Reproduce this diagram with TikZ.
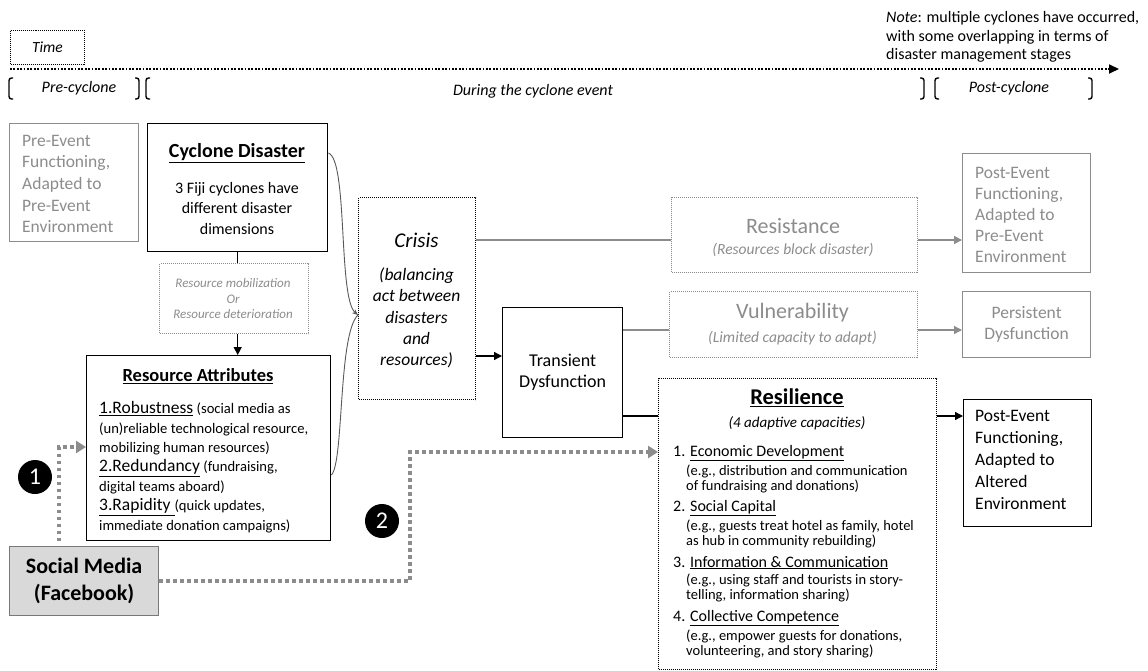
\documentclass[tikz,border=0pt]{standalone}
\usepackage{fontspec}
\setmainfont{Carlito}
\usetikzlibrary{arrows.meta}
\newcommand\fsz[2]{\fontsize{#1}{#2}\selectfont}
\definecolor{lg}{RGB}{140,140,140}
\definecolor{bgc}{RGB}{217,217,217}
\definecolor{bdc}{RGB}{120,120,120}
\begin{document}
\begin{tikzpicture}[x=1pt,y=-1pt,
 box/.style={draw, line width=1.4pt, inner sep=0pt, anchor=north west},
 gbox/.style={draw=lg, line width=1.2pt, inner sep=0pt, anchor=north west},
 dbox/.style={draw, line width=1pt, dash pattern=on 1pt off 1pt, inner sep=0pt, anchor=north west},
 gdbox/.style={draw=lg, line width=1pt, dash pattern=on 1pt off 1pt, inner sep=0pt, anchor=north west},
 txt/.style={inner sep=0pt, align=center},
 ltxt/.style={inner sep=0pt, align=left, anchor=west},
 arr/.style={-{Triangle[length=8pt,width=8pt]}, line width=1.3pt},
 garr/.style={-{Triangle[length=8pt,width=8pt]}, line width=1.3pt, draw=lg, fill=lg},
 gline/.style={line width=1.3pt, draw=lg},
 smpath/.style={draw=lg, line width=3.5pt, dash pattern=on 3.5pt off 3.5pt, -{Triangle[length=10pt,width=12pt,fill=lg]}},
 num/.style={circle, fill=black, text=white, minimum size=34pt, inner sep=0pt, font=\fsz{24}{24}},
 brk/.style={line width=1.4pt, rounded corners=2.5pt},
 curve/.style={line width=0.9pt, draw=black!65}
]
\useasboundingbox (0,0) rectangle (1148,670);

% ---- timeline ----
\node[dbox, minimum width=74, minimum height=34] (tm) at (10,30) {};
\node[txt, font=\fsz{15.5}{18}\itshape] (tmt) at (tm.center) {Time};
\coordinate (t0) at (10,69);
\coordinate (t1) at (1119,69);
\draw[line width=1.7pt, dash pattern=on 1.7pt off 1.7pt, -{Triangle[length=10pt,width=9pt]}] (t0) -- (t1);
\node[ltxt, font=\fsz{16}{18.5}] (note) at (886,37) {\textit{Note}: multiple cyclones have occurred,\\with some overlapping in terms of\\disaster management stages};

\draw[brk] (13,78) -- (9,78) -- (9,99) -- (13,99);
\draw[brk] (135,78) -- (139,78) -- (139,99) -- (135,99);
\draw[brk] (150,78) -- (146,78) -- (146,99) -- (150,99);
\draw[brk] (920,78) -- (924,78) -- (924,99) -- (920,99);
\draw[brk] (939,78) -- (935,78) -- (935,99) -- (939,99);
\draw[brk] (1088,78) -- (1092,78) -- (1092,99) -- (1088,99);
\node[txt, font=\fsz{16}{18}\itshape] (prec) at (79,88) {Pre-cyclone};
\node[txt, font=\fsz{16}{18}\itshape] (during) at (533,91) {During the cyclone event};
\node[txt, font=\fsz{16}{18}\itshape] (postc) at (1009,88) {Post-cyclone};

% ---- left column ----
\node[gbox, minimum width=129, minimum height=118] (pre) at (9,123) {};
\node[ltxt, text=lg, font=\fsz{17.5}{21.7}] (pret) at (22,184) {Pre-Event\\Functioning,\\Adapted to\\Pre-Event\\Environment};

\node[box, minimum width=180, minimum height=128] (cd) at (147,123) {};
\node[txt, font=\fsz{20}{22}\bfseries] (cdh) at (237,153) {\underline{Cyclone Disaster}};
\node[txt, font=\fsz{16}{20.5}] (cdb) at (237,208) {3 Fiji cyclones have\\different disaster\\dimensions};

\node[gdbox, minimum width=149, minimum height=70] (mob) at (159,263) {};
\node[txt, text=lg, font=\fsz{13}{15.5}\itshape] (mobt) at (233,299) {Resource mobilization\\Or\\Resource deterioration};

\node[box, minimum width=244, minimum height=185] (ra) at (86,355) {};
\node[txt, font=\fsz{18.5}{22}\bfseries] (rah) at (198,376) {\underline{Resource Attributes}};
\node[ltxt, font=\fsz{14.6}{19.4}] (rai) at (99,467) {{\fsz{17.5}{19.4}\underline{1.Robustness}} (social media as\\(un)reliable technological resource,\\mobilizing human resources)\\{\fsz{17.5}{19.4}\underline{2.Redundancy}} (fundraising,\\digital teams aboard)\\{\fsz{17.5}{19.4}\underline{3.Rapidity }}(quick updates,\\immediate donation campaigns)};

\node[draw=bdc, fill=bgc, line width=1.2pt, anchor=north west, minimum width=149, minimum height=69, inner sep=0pt, align=center, font=\fsz{22}{27}\bfseries] (sm) at (9,546) {Social Media\\(Facebook)};

\node[num] (n1) at (35,477) {1};
\node[num] (n2) at (382,521) {2};

% ---- middle ----
\node[dbox, minimum width=117, minimum height=202] (cr) at (358,197) {};
\node[txt, font=\fsz{21}{24}\itshape] (crh) at (416.5,240) {Crisis};
\node[txt, font=\fsz{17.5}{21.2}\itshape] (crb) at (416.5,318) {(balancing\\act between\\disasters\\and\\resources)};

\node[box, minimum width=120, minimum height=130, align=center, font=\fsz{18}{21}] (td) at (502,307) {Transient\\Dysfunction};

\node[gdbox, minimum width=246, minimum height=75] (rs) at (671,197) {};
\node[txt, text=lg, font=\fsz{22}{24}] (rsh) at (793,226) {Resistance};
\node[txt, text=lg, font=\fsz{15.5}{18}\itshape] (rss) at (793,250) {(Resources block disaster)};

\node[gdbox, minimum width=248, minimum height=66] (vu) at (669,291) {};
\node[txt, text=lg, font=\fsz{22}{24}] (vuh) at (792.5,313) {Vulnerability};
\node[txt, text=lg, font=\fsz{15.5}{18}\itshape] (vus) at (792.5,338) {(Limited capacity to adapt)};

\node[dbox, minimum width=278, minimum height=291] (rl) at (658,378) {};
\node[txt, font=\fsz{22.5}{24}\bfseries] (rlh) at (797,398) {\underline{Resilience}};
\node[txt, font=\fsz{15}{18}\itshape] (rls) at (797,423) {(4 adaptive capacities)};
\node[ltxt, font=\fsz{14.5}{15}] (ri1) at (673,469) {{\fsz{16}{15}1. \underline{Economic Development}}\\[2.5pt]\hspace*{13pt}(e.g., distribution and communication\\\hspace*{13pt}of fundraising and donations)};
\node[ltxt, font=\fsz{14.5}{15}] (ri2) at (673,524) {{\fsz{16}{15}2. \underline{Social Capital}}\\[2.5pt]\hspace*{13pt}(e.g., guests treat hotel as family, hotel\\\hspace*{13pt}as hub in community rebuilding)};
\node[ltxt, font=\fsz{14.5}{15}] (ri3) at (673,579) {{\fsz{16}{15}3. \underline{Information \& Communication}}\\[2.5pt]\hspace*{13pt}(e.g., using staff and tourists in story-\\\hspace*{13pt}telling, information sharing)};
\node[ltxt, font=\fsz{14.5}{15}] (ri4) at (673,634) {{\fsz{16}{15}4. \underline{Collective Competence}}\\[2.5pt]\hspace*{13pt}(e.g., empower guests for donations,\\\hspace*{13pt}volunteering, and story sharing)};

% ---- right column ----
\node[gbox, minimum width=128, minimum height=119] (pe) at (962,153) {};
\node[ltxt, text=lg, font=\fsz{17.5}{21.2}] (pet) at (975,215) {Post-Event\\Functioning,\\Adapted to\\Pre-Event\\Environment};
\node[gbox, minimum width=128, minimum height=66, align=center, text=lg, font=\fsz{17.5}{20.5}] (pd) at (962,291) {Persistent\\Dysfunction};
\node[box, minimum width=128, minimum height=127] (pa) at (963,399) {};
\node[ltxt, font=\fsz{17.5}{22}] (pat) at (975,460) {Post-Event\\Functioning,\\Adapted to\\Altered\\Environment};

% ---- connectors ----
\coordinate (yc1) at (0,153);
\coordinate (yc2) at (0,475);
\coordinate (ycm) at (0,315);
\coordinate (ycr) at (0,356);
\coordinate (y240) at (0,240);
\coordinate (y330) at (0,330);
\coordinate (y416) at (0,416);
\coordinate (y447) at (0,447);
\coordinate (p1) at (59,541);
\coordinate (c2) at (410,452);

\draw[line width=1.4pt] (cd.south) -- (cd.south |- mob.north);
\draw[arr] (cd.south |- mob.south) -- (cd.south |- ra.north);

\draw[curve, -{Stealth[length=6pt,width=5pt]}] (cd.east |- yc1) .. controls (348,160) and (338,298) .. (cr.west |- ycm);
\draw[curve] (ra.east |- yc2) .. controls (344,462) and (338,334) .. (cr.west |- ycm);

\draw[arr] (cr.east |- ycr) -- (td.west |- ycr);
\draw[gline] (cr.east |- y240) -- (rs.west |- y240);
\draw[gline] (td.east |- y330) -- (vu.west |- y330);
\draw[line width=1.4pt] (td.east |- y416) -- (rl.west |- y416);
\draw[garr] (rs.east |- y240) -- (pe.west |- y240);
\draw[garr] (vu.east |- y330) -- (pd.west |- y330);
\draw[arr] (rl.east |- y416) -- (pa.west |- y416);

\draw[smpath] (p1) |- (ra.west |- y447);
\draw[smpath] (sm.east) -| (c2) -- (rl.west |- c2);
\end{tikzpicture}
\end{document}
